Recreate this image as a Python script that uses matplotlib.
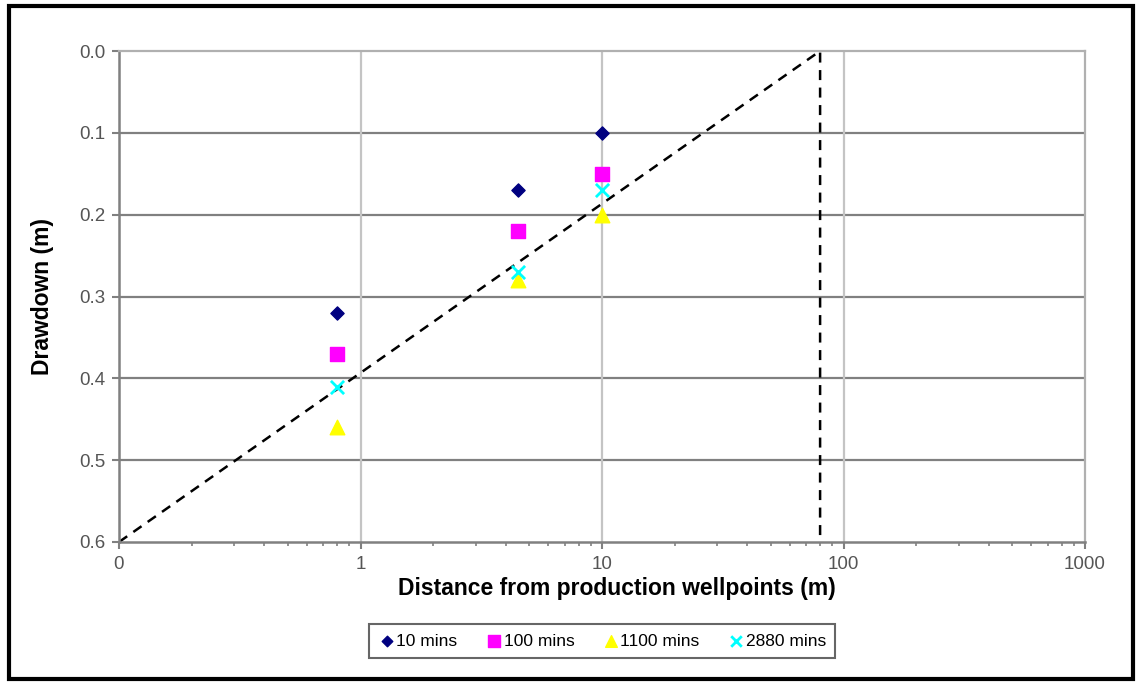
import matplotlib.pyplot as plt
import numpy as np
from matplotlib.patches import Rectangle
from matplotlib.ticker import FixedLocator, FixedFormatter, NullFormatter

plt.rcParams['font.family'] = ['Liberation Sans', 'DejaVu Sans']

distance = [0.8, 4.5, 10]
series_names = ['10 mins', '100 mins', '1100 mins', '2880 mins']
dd_10 = [0.32, 0.17, 0.10]
dd_100 = [0.37, 0.22, 0.15]
dd_1100 = [0.46, 0.28, 0.20]
dd_2880 = [0.41, 0.27, 0.17]

# straight-line fit drawn on the chart
fit_x = [0.1, 80, 80]
fit_y = [0.6, 0.0, 0.6]

x_ticks = [0.1, 1, 10, 100, 1000]
x_labels = ['0', '1', '10', '100', '1000']
y_ticks = [0.0, 0.1, 0.2, 0.3, 0.4, 0.5, 0.6]

fig = plt.figure(figsize=(11.39, 6.82), dpi=100)
ax = fig.add_axes([119 / 1139, 1 - 542 / 682, 966 / 1139, 491 / 682])

ax.set_xscale('log')
ax.set_xlim(0.1, 1000)
ax.set_ylim(0.6, 0.0)

for yv in y_ticks[1:-1]:
    ax.axhline(yv, color='#808080', lw=1.6, zorder=1)
for xv in [1, 10, 100]:
    ax.axvline(xv, color='#c4c4c4', lw=1.6, zorder=1)

ax.plot(fit_x, fit_y, color='black', ls=(0, (4, 3)), lw=1.8, zorder=2)

ax.scatter(distance, dd_10, marker='D', s=45, color='#000080', label=series_names[0], zorder=3)
ax.scatter(distance, dd_100, marker='s', s=110, color='#ff00ff', label=series_names[1], zorder=3)
ax.scatter(distance, dd_1100, marker='^', s=110, color='#ffff00', label=series_names[2], zorder=3)
ax.scatter(distance, dd_2880, marker='x', s=90, color='#00ffff', linewidths=2, label=series_names[3], zorder=4)

ax.xaxis.set_major_locator(FixedLocator(x_ticks))
ax.xaxis.set_major_formatter(FixedFormatter(x_labels))
minor = [m * 10.0 ** e for e in range(-1, 3) for m in range(2, 10)]
ax.xaxis.set_minor_locator(FixedLocator(minor))
ax.xaxis.set_minor_formatter(NullFormatter())
ax.set_yticks(y_ticks)
ax.set_yticklabels(['%.1f' % v for v in y_ticks])

ax.tick_params(axis='both', which='major', direction='out', length=5, width=1.5,
               color='#808080', labelsize=13.5, labelcolor='#555555', pad=5)
ax.tick_params(axis='x', which='minor', direction='out', length=3, width=1.2, color='#808080')

for side in ['left', 'bottom']:
    ax.spines[side].set_color('#808080')
    ax.spines[side].set_linewidth(1.8)
for side in ['top', 'right']:
    ax.spines[side].set_color('#b0b0b0')
    ax.spines[side].set_linewidth(1.6)

ax.set_xlabel('Distance from production wellpoints (m)', fontsize=16.5, fontweight='bold', labelpad=5)
ax.xaxis.set_label_coords(0.5 + 15 / 966, -0.072)
ax.set_ylabel('Drawdown (m)', fontsize=16.5, fontweight='bold')
ax.yaxis.set_label_coords(-0.0673, 0.5)

leg = ax.legend(loc='upper center', bbox_to_anchor=(0.5, -0.149), ncol=4, fontsize=12.5,
                frameon=True, fancybox=False, edgecolor='#404040', handletextpad=0.05,
                columnspacing=1.6, borderpad=0.55, handlelength=1.0, markerscale=0.8)
leg.get_frame().set_linewidth(1.5)

fig.patches.append(Rectangle((9 / 1139, 3 / 682), 1124 / 1139, 673 / 682, transform=fig.transFigure,
                             fill=False, edgecolor='black', lw=3))

fig.savefig('out.png', dpi=100)
